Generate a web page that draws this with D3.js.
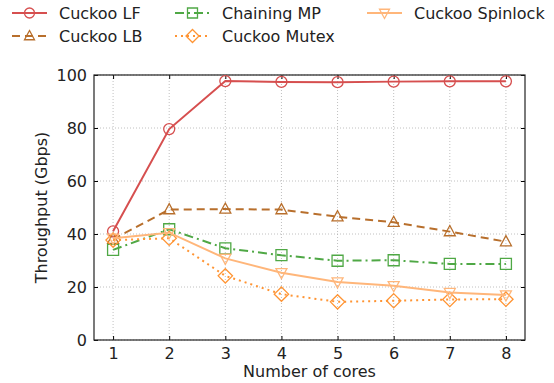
<!DOCTYPE html>
<html>
<head>
<meta charset="utf-8">
<script src="https://cdn.jsdelivr.net/npm/d3@7"></script>
<style>
  body { margin: 0; background: #fff; }
  text { font-family: "DejaVu Sans", sans-serif; fill: #222; }
</style>
</head>
<body>
<script>
// données
const cores = [1, 2, 3, 4, 5, 6, 7, 8];
const yTicks = [0, 20, 40, 60, 80, 100];
const cuckooLF = [41, 79.6, 97.7, 97.4, 97.3, 97.5, 97.6, 97.6];
const cuckooLB = [38, 49.2, 49.4, 49.2, 46.5, 44.4, 40.9, 37.1];
const chainingMP = [34, 41.8, 34.6, 32.0, 29.9, 30.1, 28.7, 28.7];
const cuckooMutex = [37.7, 38.4, 24.2, 17.3, 14.4, 14.8, 15.3, 15.4];
const cuckooSpinlock = [38.4, 40.5, 30.8, 25.4, 21.9, 20.5, 17.9, 17.0];

const series = [
  { name: "Cuckoo LF", values: cuckooLF, color: "#d64f4f", dash: null, marker: "circle" },
  { name: "Cuckoo LB", values: cuckooLB, color: "#b86f2c", dash: "8,5", marker: "up" },
  { name: "Chaining MP", values: chainingMP, color: "#4fa845", dash: "9,4,2,4", marker: "square" },
  { name: "Cuckoo Mutex", values: cuckooMutex, color: "#ff9433", dash: "2,4", marker: "diamond" },
  { name: "Cuckoo Spinlock", values: cuckooSpinlock, color: "#ffb67a", dash: null, marker: "down" }
];

const width = 554, height = 383;
const margin = { left: 94, right: 29, top: 75, bottom: 43 };

const svg = d3.select("body").append("svg")
  .attr("width", width).attr("height", height);

const x = d3.scaleLinear().domain([0.66, 8.34]).range([margin.left, width - margin.right]);
const y = d3.scaleLinear().domain([0, 100]).range([height - margin.bottom, margin.top]);

const x0 = margin.left, x1 = width - margin.right;
const y0 = height - margin.bottom, y1 = margin.top;

// grille pointillée
const grid = svg.append("g");
grid.selectAll(".gx").data(cores).join("line")
  .attr("x1", d => x(d)).attr("x2", d => x(d))
  .attr("y1", y1).attr("y2", y0)
  .attr("stroke", "#b0b0b0").attr("stroke-width", 0.8).attr("stroke-dasharray", "1,2");
grid.selectAll(".gy").data(yTicks).join("line")
  .attr("x1", x0).attr("x2", x1)
  .attr("y1", d => y(d)).attr("y2", d => y(d))
  .attr("stroke", "#b0b0b0").attr("stroke-width", 0.8).attr("stroke-dasharray", "1,2");

// axes (ticks vers l'intérieur)
const axisStyle = g => {
  g.select(".domain").remove();
  g.selectAll(".tick line").attr("stroke", "#000").attr("stroke-width", 1);
  g.selectAll(".tick text").style("font-size", "16px").attr("fill", "#222")
    .style("font-family", "DejaVu Sans, sans-serif");
};
svg.append("g").attr("transform", `translate(0,${y0})`)
  .call(d3.axisBottom(x).tickValues(cores).tickSizeInner(-4).tickPadding(8).tickFormat(d3.format("d")))
  .call(axisStyle);
svg.append("g").attr("transform", `translate(0,${y1})`)
  .call(d3.axisTop(x).tickValues(cores).tickSizeInner(-4).tickFormat(""))
  .call(axisStyle);
svg.append("g").attr("transform", `translate(${x0},0)`)
  .call(d3.axisLeft(y).tickValues(yTicks).tickSizeInner(-4).tickPadding(7))
  .call(axisStyle);
svg.append("g").attr("transform", `translate(${x1},0)`)
  .call(d3.axisRight(y).tickValues(yTicks).tickSizeInner(-4).tickFormat(""))
  .call(axisStyle);

svg.append("rect")
  .attr("x", x0).attr("y", y1).attr("width", x1 - x0).attr("height", y0 - y1)
  .attr("fill", "none").attr("stroke", "#222").attr("stroke-width", 1.2);

// symboles
function markerPath(type, r) {
  if (type === "circle") return d3.symbol(d3.symbolCircle, Math.PI * r * r)();
  if (type === "square") return `M${-r},${-r}H${r}V${r}H${-r}Z`;
  if (type === "diamond") return `M0,${-r * 1.3}L${r * 1.3},0L0,${r * 1.3}L${-r * 1.3},0Z`;
  if (type === "up") return `M0,${-r * 1.1}L${r},${r * 0.75}L${-r},${r * 0.75}Z`;
  if (type === "down") return `M0,${r * 1.1}L${r},${-r * 0.75}L${-r},${-r * 0.75}Z`;
}

const line = d3.line().x((d, i) => x(cores[i])).y(d => y(d));

series.forEach(s => {
  const g = svg.append("g");
  g.append("path").datum(s.values)
    .attr("d", line)
    .attr("fill", "none")
    .attr("stroke", s.color)
    .attr("stroke-width", 2)
    .attr("stroke-dasharray", s.dash);
  g.selectAll("path.m").data(s.values).join("path")
    .attr("class", "m")
    .attr("transform", (d, i) => `translate(${x(cores[i])},${y(d)})`)
    .attr("d", markerPath(s.marker, 5.5))
    .attr("fill", "none")
    .attr("stroke", s.color)
    .attr("stroke-width", 1.3);
});

// légende (3 colonnes)
const legendPos = [
  { x: 12, y: 13 }, { x: 12, y: 36 },
  { x: 175, y: 13 }, { x: 175, y: 36 },
  { x: 367, y: 13 }
];
series.forEach((s, k) => {
  const p = legendPos[k];
  const g = svg.append("g").attr("transform", `translate(${p.x},${p.y})`);
  g.append("line").attr("x1", 0).attr("x2", 35).attr("y1", 0).attr("y2", 0)
    .attr("stroke", s.color).attr("stroke-width", 2).attr("stroke-dasharray", s.dash);
  g.append("path").attr("transform", "translate(17.5,0)")
    .attr("d", markerPath(s.marker, 5))
    .attr("fill", "none").attr("stroke", s.color).attr("stroke-width", 1.3);
  g.append("text").attr("x", 47).attr("y", 6).style("font-size", "16px").text(s.name);
});

// titres des axes
svg.append("text")
  .attr("x", (x0 + x1) / 2).attr("y", 377)
  .attr("text-anchor", "middle").style("font-size", "16px")
  .text("Number of cores");
svg.append("text")
  .attr("transform", `translate(47,${(y0 + y1) / 2}) rotate(-90)`)
  .attr("text-anchor", "middle").style("font-size", "16px")
  .text("Throughput (Gbps)");
</script>
</body>
</html>
